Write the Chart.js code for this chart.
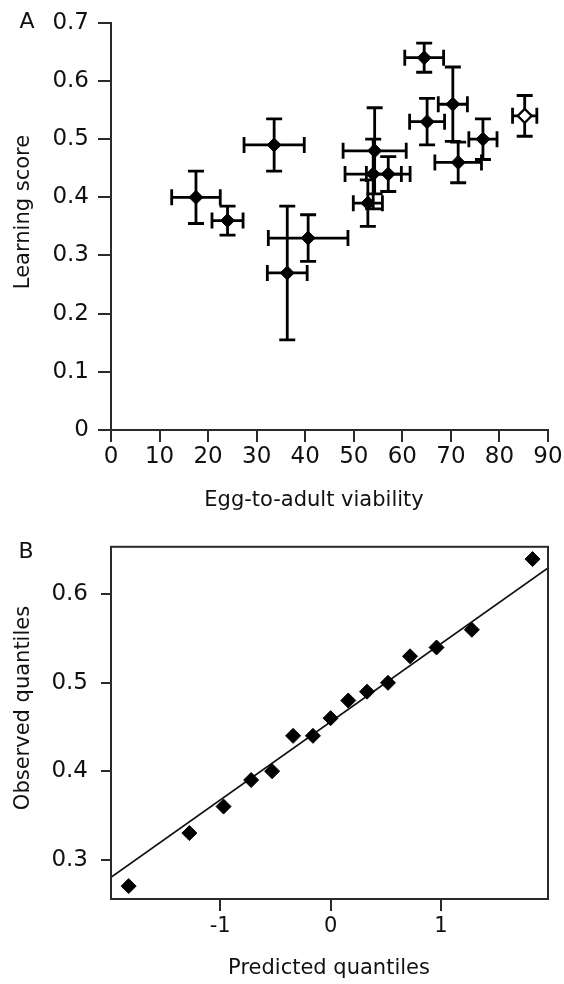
<!DOCTYPE html>
<html>
<head>
<meta charset="utf-8">
<script src="https://cdn.jsdelivr.net/npm/chart.js@4.4.1/dist/chart.umd.min.js"></script>
<style>
  html, body { margin: 0; padding: 0; background: #fff; }
  #wrapA { position: absolute; left: 0; top: 0; width: 564px; height: 520px; }
  #wrapB { position: absolute; left: 0; top: 520px; width: 564px; height: 464px; }
</style>
</head>
<body>
<div id="wrapA"><canvas id="chartA" width="564" height="520"></canvas></div>
<div id="wrapB"><canvas id="chartB" width="564" height="464"></canvas></div>
<script>
// Panel A: egg-to-adult viability vs learning score (one entry per line)
const viability    = [17.5, 24.0, 33.6, 36.3, 40.6, 64.5, 70.4, 65.1, 76.6, 71.5, 85.2, 54.3, 54.0, 57.1, 52.9];
const viabilityErr = [5.0, 3.2, 6.2, 4.1, 8.2, 4.0, 3.0, 3.6, 2.9, 4.8, 2.5, 6.5, 5.8, 4.5, 3.0];
const learning     = [0.40, 0.36, 0.49, 0.27, 0.33, 0.64, 0.56, 0.53, 0.50, 0.46, 0.54, 0.48, 0.44, 0.44, 0.39];
const learningErr  = [0.045, 0.025, 0.045, 0.115, 0.04, 0.025, 0.064, 0.04, 0.035, 0.035, 0.035, 0.074, 0.06, 0.03, 0.04];
const isControl    = [false, false, false, false, false, false, false, false, false, false, true, false, false, false, false];

// Panel B: normal quantile plot
const predictedQ = [-1.83, -1.28, -0.97, -0.72, -0.53, -0.34, -0.16, 0, 0.16, 0.33, 0.52, 0.72, 0.96, 1.28, 1.83];
const observedQ  = [0.27, 0.33, 0.36, 0.39, 0.40, 0.44, 0.44, 0.46, 0.48, 0.49, 0.50, 0.53, 0.54, 0.56, 0.64];
const fitLineX   = [-1.99, 1.97];
const fitLineY   = [0.28, 0.63];

// tick labels
const ticksAx = [0, 10, 20, 30, 40, 50, 60, 70, 80, 90];
const ticksAy = [0, 0.1, 0.2, 0.3, 0.4, 0.5, 0.6, 0.7];
const ticksBx = [-1, 0, 1];
const ticksBy = [0.3, 0.4, 0.5, 0.6];

const FONT = "'DejaVu Sans', Verdana, sans-serif";
const INK = '#111111';
const AXIS = '#2a2a2a';

const pointsA = viability.map((v, i) => ({ x: v, y: learning[i], xErr: viabilityErr[i], yErr: learningErr[i] }));
const pointsB = predictedQ.map((v, i) => ({ x: v, y: observedQ[i] }));
const lineB = fitLineX.map((v, i) => ({ x: v, y: fitLineY[i] }));

const errorBars = {
    id: 'errorBars',
    beforeDatasetsDraw: (chart) => {
        const ctx = chart.ctx;
        const xs = chart.scales.x, ys = chart.scales.y;
        const cap = 8;
        ctx.save();
        ctx.strokeStyle = '#000';
        ctx.lineWidth = 2.8;
        chart.data.datasets[0].data.forEach(p => {
            const px = xs.getPixelForValue(p.x), py = ys.getPixelForValue(p.y);
            const x0 = xs.getPixelForValue(p.x - p.xErr), x1 = xs.getPixelForValue(p.x + p.xErr);
            const y0 = ys.getPixelForValue(p.y - p.yErr), y1 = ys.getPixelForValue(p.y + p.yErr);
            ctx.beginPath();
            ctx.moveTo(x0, py); ctx.lineTo(x1, py);
            ctx.moveTo(x0, py - cap); ctx.lineTo(x0, py + cap);
            ctx.moveTo(x1, py - cap); ctx.lineTo(x1, py + cap);
            ctx.moveTo(px, y0); ctx.lineTo(px, y1);
            ctx.moveTo(px - cap, y0); ctx.lineTo(px + cap, y0);
            ctx.moveTo(px - cap, y1); ctx.lineTo(px + cap, y1);
            ctx.stroke();
        });
        ctx.restore();
    }
};

// axis titles and panel letters
function textPlugin(items) {
    return {
        id: 'panelText',
        afterDraw: (chart) => {
            const ctx = chart.ctx;
            ctx.save();
            ctx.fillStyle = INK;
            items.forEach(t => {
                ctx.save();
                ctx.font = t.size + 'px ' + FONT;
                ctx.textAlign = 'center';
                ctx.textBaseline = 'middle';
                ctx.translate(t.x, t.y);
                if (t.rotate) ctx.rotate(-Math.PI / 2);
                ctx.fillText(t.text, 0, 0);
                ctx.restore();
            });
            ctx.restore();
        }
    };
}

const frameBox = {
    id: 'frameBox',
    afterDatasetsDraw: (chart) => {
        const { ctx, chartArea: a } = chart;
        ctx.save();
        ctx.strokeStyle = AXIS;
        ctx.lineWidth = 2;
        ctx.strokeRect(a.left, a.top, a.right - a.left, a.bottom - a.top);
        ctx.restore();
    }
};

function axis(opts) {
    return {
        type: 'linear',
        min: opts.min,
        max: opts.max,
        afterFit: opts.fit,
        afterBuildTicks: (s) => { s.ticks = opts.ticks.map(v => ({ value: v })); },
        grid: { drawOnChartArea: false, drawTicks: true, tickLength: opts.tickLength, color: AXIS, lineWidth: 2 },
        border: { display: true, color: AXIS, width: 2 },
        ticks: {
            color: INK,
            font: { family: FONT, size: opts.fontSize || 23 },
            padding: opts.padding,
            autoSkip: false,
            maxRotation: 0,
            callback: (v) => String(+v.toFixed(1))
        }
    };
}

var chartA = new Chart(document.getElementById('chartA'), {
    type: 'scatter',
    data: {
        datasets: [{
            data: pointsA,
            pointStyle: 'rectRot',
            pointRadius: 7,
            pointHoverRadius: 7,
            pointBackgroundColor: isControl.map(c => c ? '#ffffff' : '#000'),
            pointBorderColor: '#000',
            pointBorderWidth: isControl.map(c => c ? 2.2 : 1)
        }]
    },
    options: {
        responsive: false,
        animation: false,
        events: [],
        layout: { padding: { top: 22, right: 16, left: 0, bottom: 0 } },
        plugins: { legend: { display: false }, tooltip: { enabled: false } },
        scales: {
            x: axis({ min: 0, max: 90, ticks: ticksAx, tickLength: 12, padding: 1, fit: s => { s.height = 90; } }),
            y: axis({ min: 0, max: 0.7, ticks: ticksAy, tickLength: 13, padding: 9, fit: s => { s.width = 111; } })
        }
    },
    plugins: [errorBars, textPlugin([
        { text: 'A', x: 27, y: 22, size: 22 },
        { text: 'Learning score', x: 24, y: 212, size: 21, rotate: true },
        { text: 'Egg-to-adult viability', x: 314, y: 501, size: 21 }
    ])]
});

var chartB = new Chart(document.getElementById('chartB'), {
    type: 'scatter',
    data: {
        datasets: [{
            data: pointsB,
            pointStyle: 'rectRot',
            pointRadius: 7.5,
            pointHoverRadius: 7.5,
            pointBackgroundColor: '#000',
            pointBorderColor: '#000',
            pointBorderWidth: 1
        }, {
            data: lineB,
            showLine: true,
            borderColor: INK,
            borderWidth: 1.6,
            pointRadius: 0
        }]
    },
    options: {
        responsive: false,
        animation: false,
        events: [],
        layout: { padding: { top: 22, right: 16, left: 0, bottom: 0 } },
        plugins: { legend: { display: false }, tooltip: { enabled: false } },
        scales: {
            x: axis({ min: -1.99, max: 1.97, ticks: ticksBx, tickLength: 12, padding: 3, fontSize: 21, fit: s => { s.height = 85; } }),
            y: axis({ min: 0.2554, max: 0.6539, ticks: ticksBy, tickLength: 10, padding: 13, fit: s => { s.width = 111; } })
        }
    },
    plugins: [frameBox, textPlugin([
        { text: 'B', x: 26, y: 32, size: 22 },
        { text: 'Observed quantiles', x: 24, y: 188, size: 21, rotate: true },
        { text: 'Predicted quantiles', x: 329, y: 449, size: 21 }
    ])]
});
</script>
</body>
</html>
